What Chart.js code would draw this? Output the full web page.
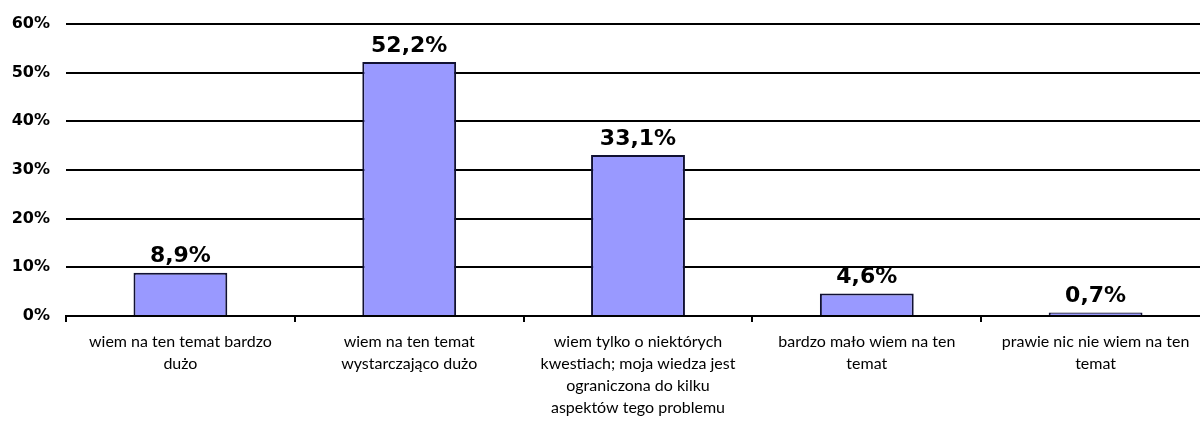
<!DOCTYPE html>
<html>
<head>
<meta charset="utf-8">
<script src="https://cdn.jsdelivr.net/npm/chart.js@4/dist/chart.umd.min.js"></script>
<style>
  html, body { margin: 0; padding: 0; background: #fff; overflow: hidden; }
  #wrap { width: 1210px; height: 423px; }
</style>
</head>
<body>
<div id="wrap"><canvas id="knowledge_chart"></canvas></div>
<script>
const categories = [
    ["wiem na ten temat bardzo", "dużo"],
    ["wiem na ten temat", "wystarczająco dużo"],
    ["wiem tylko o niektórych", "kwestiach; moja wiedza jest", "ograniczona do kilku", "aspektów tego problemu"],
    ["bardzo mało wiem na ten", "temat"],
    ["prawie nic nie wiem na ten", "temat"]
];
const values = [8.9, 52.2, 33.1, 4.6, 0.7];
const yTicks = [0, 10, 20, 30, 40, 50, 60];

// value labels above the bars, polish decimal comma
const barLabels = {
    id: "barLabels",
    afterDatasetsDraw(chart) {
        const ctx = chart.ctx;
        const meta = chart.getDatasetMeta(0);
        ctx.save();
        ctx.font = "bold 22px 'DejaVu Sans'";
        ctx.fillStyle = "#000";
        ctx.textAlign = "center";
        ctx.textBaseline = "bottom";
        meta.data.forEach((bar, i) => {
            const txt = values[i].toFixed(1).replace(".", ",") + "%";
            ctx.fillText(txt, bar.x, bar.y - 5);
        });
        ctx.restore();
    }
};

(function knowledge_graph() {
    const data = {
        labels: categories,
        datasets: [
            {
            data: values,
            backgroundColor: "#9999FF",
            borderColor: "#111133",
            borderWidth: 2,
            borderSkipped: "bottom",
            categoryPercentage: 1,
            barPercentage: 0.41,
            },
        ],
    };

    const ctx = document.getElementById("knowledge_chart").getContext("2d");

    const myChart = new Chart(ctx, {
        type: "bar",
        data: data,
        options: {
            responsive: true,
            maintainAspectRatio: false,
            animation: false,
            layout: { padding: { top: 12, right: 0, left: 0, bottom: 0 } },
            plugins: {
                legend: { display: false },
                tooltip: { enabled: false },
            },
            scales: {
                x: {
                    offset: true,
                    grid: {
                        offset: true,
                        drawOnChartArea: false,
                        drawTicks: true,
                        tickLength: 6,
                        color: "#000",
                        lineWidth: 2,
                    },
                    border: { color: "#000", width: 2 },
                    ticks: {
                        color: "#000",
                        font: { family: "Lato", size: 16, lineHeight: 1.375 },
                        maxRotation: 0,
                        autoSkip: false,
                        padding: 9,
                    },
                    afterFit(scale) { scale.height = 107; },
                },
                y: {
                    min: 0,
                    max: 60,
                    afterBuildTicks(scale) {
                        scale.ticks = yTicks.map(v => ({ value: v }));
                    },
                    grid: {
                        color: "#000",
                        lineWidth: 2,
                        drawTicks: false,
                    },
                    border: { display: false },
                    ticks: {
                        color: "#000",
                        font: { family: "'DejaVu Sans'", size: 16, weight: "bold", lineHeight: 1 },
                        padding: 16,
                        callback: v => v + "%",
                    },
                    afterFit(scale) { scale.width = 66; },
                },
            },
        },
        plugins: [barLabels],
    });
})();
</script>
</body>
</html>
